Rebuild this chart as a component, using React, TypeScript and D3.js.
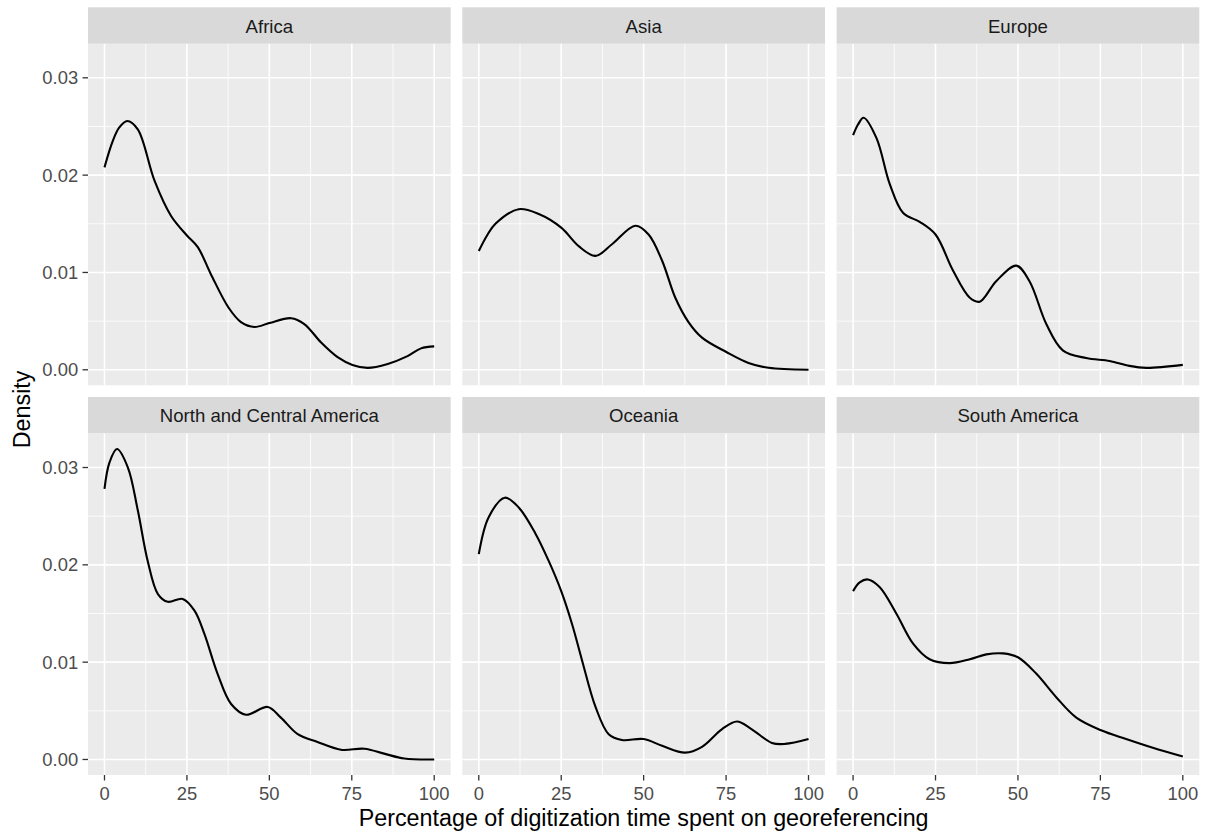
import React from "react";
import * as d3 from "d3";

// Facet labels, in panel order (left to right, top to bottom)
const regions = [
  "Africa",
  "Asia",
  "Europe",
  "North and Central America",
  "Oceania",
  "South America",
];

// Kernel density estimates: [percentage, density]
const africa: [number, number][] = [
  [0, 0.0208], [2.5, 0.0235], [4.5, 0.0249], [6.9, 0.02556], [10.1, 0.0247],
  [15.2, 0.0194], [20.2, 0.0158], [25, 0.0138], [28.3, 0.0126], [32.3, 0.0098],
  [37.6, 0.0064], [41.4, 0.0049], [45.5, 0.0044], [50, 0.0048], [56.6, 0.0053],
  [60.6, 0.0047], [65.7, 0.0028], [70.7, 0.0013], [75.2, 0.0005], [79.8, 0.0002],
  [85.9, 0.0006], [91.9, 0.0014], [96, 0.0022], [100, 0.0024],
];

const asia: [number, number][] = [
  [0, 0.0122], [2.5, 0.0138], [5.05, 0.015], [12.1, 0.0165], [18.2, 0.016],
  [25, 0.0146], [30.3, 0.0127], [35.4, 0.0117], [40.4, 0.0129], [47.5, 0.0148],
  [51.5, 0.0139], [55.6, 0.0112], [59.6, 0.0074], [63.6, 0.0049], [67.7, 0.0033],
  [75.2, 0.0018], [81.8, 0.0007], [87.9, 0.0002], [100, 0.0],
];

const europe: [number, number][] = [
  [0, 0.0241], [1.5, 0.0252], [3.2, 0.0259], [7.1, 0.0238], [11.1, 0.0191],
  [15.2, 0.0161], [20.2, 0.0152], [25, 0.0139], [30.3, 0.0102], [35.4, 0.0074],
  [38.4, 0.007], [43.4, 0.0091], [49.5, 0.0107], [53.5, 0.0091], [58.6, 0.0047],
  [63.6, 0.002], [70.7, 0.0012], [77.8, 0.0009], [83.8, 0.0004], [88.9, 0.0002],
  [100, 0.0005],
];

const northCentralAmerica: [number, number][] = [
  [0, 0.0278], [1.5, 0.0305], [3.8, 0.0319], [7.1, 0.03], [10.1, 0.0256],
  [13.1, 0.0204], [16.2, 0.017], [19.2, 0.0162], [23.7, 0.0165], [27.3, 0.0153],
  [30.3, 0.0129], [34.3, 0.0088], [38.4, 0.0057], [42.9, 0.0046], [49.5, 0.0054],
  [53.5, 0.0043], [58.6, 0.0026], [64.6, 0.0018], [71.7, 0.001], [78.8, 0.0011],
  [84.8, 0.0006], [90.9, 0.0001], [100, 0.0],
];

const oceania: [number, number][] = [
  [0, 0.0211], [3.0, 0.0249], [7.9, 0.0269], [12.1, 0.0259], [17.2, 0.0232],
  [21.2, 0.0204], [25, 0.0173], [28.3, 0.0139], [31.3, 0.0102], [35.4, 0.0054],
  [39.4, 0.0026], [43.4, 0.002], [50, 0.0021], [55.6, 0.0014], [62.6, 0.0007],
  [67.7, 0.0013], [73.7, 0.0031], [78.3, 0.0039], [82.8, 0.0031], [88.9, 0.0017],
  [92.9, 0.0016], [100, 0.0021],
];

const southAmerica: [number, number][] = [
  [0, 0.0173], [2, 0.0182], [4.5, 0.0185], [8.1, 0.0177], [13.1, 0.015],
  [18.2, 0.0119], [23.2, 0.0103], [29.3, 0.0099], [35.4, 0.0103], [40.4, 0.0108],
  [45.5, 0.0109], [50, 0.0105], [55.6, 0.0088], [61.6, 0.0064], [67.7, 0.0043],
  [75.2, 0.003], [82.8, 0.0021], [90.9, 0.0012], [100, 0.0003],
];

const densities = [africa, asia, europe, northCentralAmerica, oceania, southAmerica];

// Axis breaks
const xTicks = [0, 25, 50, 75, 100];
const xMinor = [12.5, 37.5, 62.5, 87.5];
const yTicks = [0, 0.01, 0.02, 0.03];
const yMinor = [0.005, 0.015, 0.025];

const xTitle = "Percentage of digitization time spent on georeferencing";
const yTitle = "Density";

const W = 1207;
const H = 834;
const FONT = "'Liberation Sans', Arial, Helvetica, sans-serif";

// Facet grid geometry
const left0 = 88;
const panelW = 362.7;
const colGap = 11.6;
const stripTop0 = 7.3;
const stripH = 36.5;
const panelH = 341.5;
const rowGap = 11.7;

export default function App() {
  const maxD = d3.max(densities.flat(), (d) => d[1]) as number;
  const pad = maxD * 0.05;

  const xScale = d3.scaleLinear().domain([-5, 105]).range([0, panelW]);
  const yScale = d3.scaleLinear().domain([-pad, maxD + pad]).range([panelH, 0]);

  const line = d3
    .line<[number, number]>()
    .x((d) => xScale(d[0]))
    .y((d) => yScale(d[1]))
    .curve(d3.curveCatmullRom.alpha(0.5));

  const fmtY = d3.format(".2f");
  const fmtX = d3.format("d");

  const panelsTop = stripTop0 + stripH;
  const panelsBottom = stripTop0 + 2 * (stripH + panelH) + rowGap;
  const panelsRight = left0 + 3 * panelW + 2 * colGap;

  return (
    <svg
      width={W}
      height={H}
      style={{ position: "absolute", left: 0, top: 0, background: "#fff" }}
      fontFamily={FONT}
    >
      {regions.map((name, i) => {
        const col = i % 3;
        const row = Math.floor(i / 3);
        const px = left0 + col * (panelW + colGap);
        const sy = stripTop0 + row * (stripH + panelH + rowGap);
        const py = sy + stripH;
        return (
          <g key={name}>
            {/* strip */}
            <rect x={px} y={sy} width={panelW} height={stripH} fill="#D9D9D9" />
            <text
              x={px + panelW / 2}
              y={sy + stripH / 2}
              dy="0.38em"
              textAnchor="middle"
              fontSize={18.6}
              fill="#1A1A1A"
            >
              {name}
            </text>
            <g transform={`translate(${px},${py})`}>
              <rect width={panelW} height={panelH} fill="#EBEBEB" />
              {xMinor.map((v) => (
                <line key={"xm" + v} x1={xScale(v)} x2={xScale(v)} y1={0} y2={panelH} stroke="#fff" strokeWidth={0.8} />
              ))}
              {yMinor.map((v) => (
                <line key={"ym" + v} y1={yScale(v)} y2={yScale(v)} x1={0} x2={panelW} stroke="#fff" strokeWidth={0.8} />
              ))}
              {xTicks.map((v) => (
                <line key={"xM" + v} x1={xScale(v)} x2={xScale(v)} y1={0} y2={panelH} stroke="#fff" strokeWidth={1.6} />
              ))}
              {yTicks.map((v) => (
                <line key={"yM" + v} y1={yScale(v)} y2={yScale(v)} x1={0} x2={panelW} stroke="#fff" strokeWidth={1.6} />
              ))}
              <path d={line(densities[i]) || ""} fill="none" stroke="#000" strokeWidth={2.1} />

              {col === 0 &&
                yTicks.map((v) => (
                  <g key={"yt" + v} transform={`translate(0,${yScale(v)})`}>
                    <line x1={-5.5} x2={0} stroke="#333" strokeWidth={1.3} />
                    <text x={-9.9} dy="0.36em" textAnchor="end" fontSize={18.4} fill="#4D4D4D">
                      {fmtY(v)}
                    </text>
                  </g>
                ))}
              {row === 1 &&
                xTicks.map((v) => (
                  <g key={"xt" + v} transform={`translate(${xScale(v)},${panelH})`}>
                    <line y1={0} y2={5.5} stroke="#333" strokeWidth={1.3} />
                    <text y={24.5} textAnchor="middle" fontSize={18.4} fill="#4D4D4D">
                      {fmtX(v)}
                    </text>
                  </g>
                ))}
            </g>
          </g>
        );
      })}

      <text
        x={(left0 + panelsRight) / 2}
        y={826}
        textAnchor="middle"
        fontSize={23.3}
        fill="#000"
      >
        {xTitle}
      </text>
      <text
        transform={`translate(29.5,${(panelsTop + panelsBottom) / 2}) rotate(-90)`}
        textAnchor="middle"
        fontSize={23.3}
        fill="#000"
      >
        {yTitle}
      </text>
    </svg>
  );
}
